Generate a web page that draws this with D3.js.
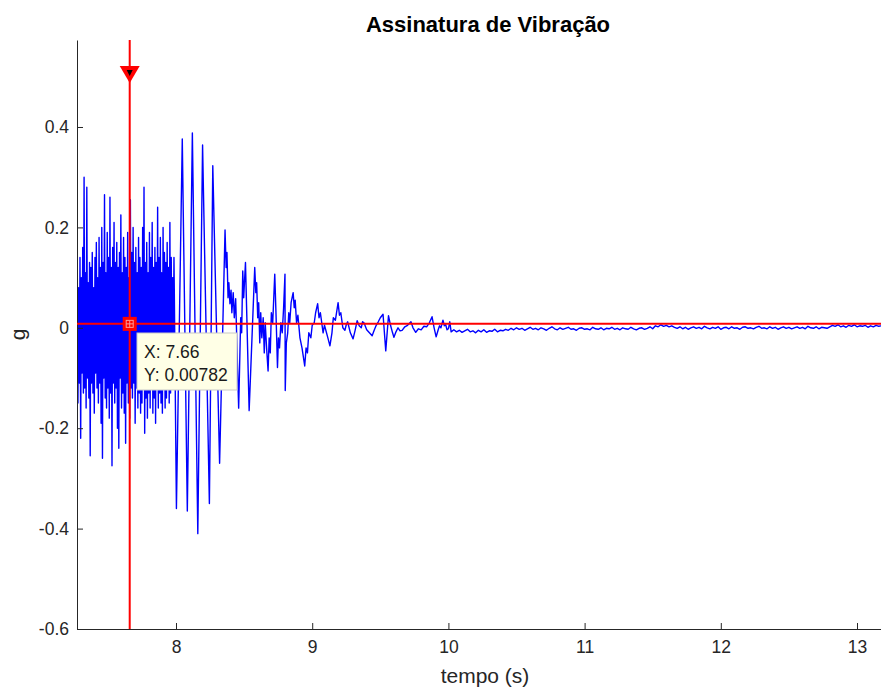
<!DOCTYPE html>
<html>
<head>
<meta charset="utf-8">
<script src="https://cdn.jsdelivr.net/npm/d3@7"></script>
<style>
  body { margin: 0; background: #fff; }
  text { font-family: "Liberation Sans", Arial, sans-serif; }
</style>
</head>
<body>
<div id="chart"></div>
<script>
// Signal: dense burst, decaying oscillation, quiet tail
const burstStart = 7.275;
const burstStep = 0.005;
const burstG = [
  0.12, -0.15, 0.08, -0.11, 0.14, -0.22, 0.10, -0.09, 0.16, -0.13,
  0.30, -0.12, 0.11, -0.16, 0.28, -0.10, 0.09, -0.14, 0.13, -0.255,
  0.12, -0.11, 0.15, -0.13, 0.08, -0.17, 0.14, -0.09, 0.17, -0.12,
  0.10, -0.15, 0.18, -0.11, 0.12, -0.19, 0.20, -0.26, 0.13, -0.10,
  0.265, -0.14, 0.11, -0.16, 0.19, -0.12, 0.14, -0.18, 0.26, -0.13,
  0.12, -0.275, 0.16, -0.11, 0.21, -0.15, 0.13, -0.12, 0.17, -0.20,
  0.12, -0.24, 0.15, -0.10, 0.225, -0.16, 0.11, -0.13, 0.18, -0.17,
  0.14, -0.23, 0.12, -0.11, 0.19, -0.15, 0.10, -0.18, 0.255, -0.12,
  0.15, -0.14, 0.20, -0.11, 0.13, -0.19, 0.16, -0.12, 0.11, -0.16,
  0.18, -0.13, 0.14, -0.17, 0.12, -0.15, 0.20, -0.12, 0.28, -0.21,
  0.13, -0.14, 0.17, -0.18, 0.11, -0.13, 0.19, -0.16, 0.14, -0.11,
  0.21, -0.17, 0.12, -0.14, 0.16, -0.19, 0.13, -0.12, 0.24, -0.16,
  0.14, -0.13, 0.18, -0.15, 0.11, -0.17, 0.20, -0.12, 0.15, -0.16,
  0.13, -0.14, 0.17, -0.11, 0.12, -0.15, 0.21, -0.13, 0.14, -0.12,
  0.10, -0.08
];

// [tempo, g] turning points of the decaying part
const decayPts = [
  [7.985, 0.14], [8.003, -0.36], [8.046, 0.376], [8.083, -0.365], [8.12, 0.388],
  [8.16, -0.41], [8.195, 0.364], [8.245, -0.35], [8.27, 0.323], [8.32, -0.27],
  [8.36, 0.195], [8.368, 0.12], [8.374, 0.15], [8.382, 0.06], [8.388, 0.09],
  [8.396, 0.048], [8.404, 0.075], [8.41, 0.03], [8.42, 0.07], [8.428, 0.02],
  [8.438, 0.058], [8.46, -0.16], [8.475, 0.02], [8.482, -0.01], [8.49, 0.113],
  [8.497, 0.06], [8.51, 0.13], [8.537, -0.165], [8.578, 0.12], [8.586, 0.07],
  [8.592, 0.09], [8.60, 0.02], [8.607, 0.05], [8.615, -0.03], [8.622, 0.03],
  [8.63, -0.02], [8.64, 0.02], [8.648, -0.05], [8.655, 0.01], [8.665, -0.04],
  [8.676, -0.086], [8.684, -0.02], [8.692, -0.05], [8.70, 0.03], [8.71, 0.01],
  [8.725, 0.107], [8.735, 0.02], [8.745, -0.079], [8.752, -0.02], [8.76, -0.04],
  [8.77, 0.01], [8.78, -0.01], [8.79, 0.04], [8.80, 0.107], [8.802, -0.125],
  [8.81, -0.03], [8.82, -0.01], [8.828, 0.03], [8.835, 0.01], [8.845, 0.05],
  [8.86, 0.07], [8.868, 0.04], [8.875, 0.055], [8.885, 0.01], [8.895, 0.025],
  [8.91, -0.02], [8.925, -0.04], [8.945, -0.076], [8.955, -0.04], [8.965, -0.05],
  [8.975, -0.01], [8.99, -0.02], [9.00, 0.005], [9.015, 0.01], [9.025, 0.03],
  [9.04, 0.048], [9.05, 0.02], [9.06, 0.03], [9.08, -0.01], [9.09, 0.005],
  [9.10, -0.005], [9.115, -0.02], [9.13, -0.036], [9.145, -0.01], [9.155, 0.02],
  [9.17, 0.015], [9.19, 0.05], [9.20, 0.025], [9.21, 0.03], [9.225, 0.0],
  [9.24, -0.005], [9.25, 0.006], [9.26, 0.012], [9.28, -0.01], [9.30, -0.022],
  [9.315, -0.005], [9.33, 0.014], [9.345, 0.004], [9.36, 0.0], [9.37, 0.012],
  [9.38, 0.01], [9.40, -0.004], [9.42, -0.01], [9.44, -0.016], [9.455, -0.005],
  [9.47, 0.005], [9.485, 0.012], [9.50, 0.02], [9.52, 0.027], [9.54, -0.046],
  [9.56, 0.024], [9.575, 0.005], [9.59, -0.01], [9.60, -0.019], [9.615, -0.008],
  [9.63, 0.0], [9.645, -0.006], [9.66, -0.005], [9.68, 0.002], [9.70, 0.005],
  [9.725, 0.012], [9.74, 0.0], [9.76, -0.009], [9.78, -0.002], [9.80, -0.004],
  [9.82, 0.003], [9.84, 0.002], [9.86, 0.01], [9.88, 0.022], [9.895, 0.0],
  [9.91, -0.018], [9.925, -0.004], [9.935, 0.004], [9.945, 0.0], [9.96, 0.015],
  [9.97, 0.004], [9.98, 0.006], [9.99, -0.004], [10.00, -0.002], [10.01, 0.012],
  [10.02, -0.008]
];

const tailStart = 10.04;
const tailStep = 0.02;
const tailG = [
  -0.004, -0.008, -0.005, -0.009, -0.006, -0.003, -0.008, -0.006, -0.010, -0.005,
  -0.008, -0.004, -0.009, -0.006, -0.007, -0.003, -0.008, -0.005, -0.006, -0.003,
  -0.005,
  -0.001, -0.004, 0.000, -0.003, -0.001, -0.005, -0.002, 0.001, -0.003, -0.001,
  -0.004, 0.000, -0.002, -0.005, -0.001, 0.002, -0.002, -0.004, 0.000, -0.003,
  -0.001, 0.001, -0.003, -0.002, -0.005, -0.001, 0.000, -0.003, -0.002, -0.004,
  0.001, -0.002, -0.003, 0.000, -0.004, -0.001, -0.002, 0.001, -0.003, -0.001,
  -0.004, 0.000, -0.002, -0.003, 0.001, -0.002, -0.004, -0.001, 0.000, -0.003,
  -0.001, 0.002, -0.002,
  0.004, 0.002, 0.006, 0.003, 0.005, 0.002, 0.004, 0.001,
  -0.001, 0.002, -0.002, 0.001, -0.003, 0.000, 0.002, -0.001, 0.001, -0.002,
  0.003, 0.000, -0.002, 0.001, -0.001, 0.002, -0.003, 0.000, 0.001, -0.002,
  0.002, -0.001, 0.000, -0.003, 0.001, 0.002, -0.001, 0.000, -0.002, 0.001,
  0.003, -0.001, 0.000, -0.002, 0.002, -0.001, 0.001, -0.003, 0.000, 0.002,
  -0.001, 0.001, -0.002, 0.000, 0.002, -0.001, 0.001, -0.002, 0.003, 0.000,
  -0.001, 0.002, -0.002, 0.001, 0.000, -0.001,
  0.002, 0.005, 0.003, 0.006, 0.002, 0.004, 0.001, 0.005, 0.003, 0.006,
  0.002, 0.004, 0.003, 0.005, 0.001, 0.004, 0.002, 0.005, 0.003, 0.004,
  0.002, 0.005, 0.003, 0.004, 0.002
];

// Data cursor
const cursorX = 7.66;
const cursorY = 0.00782;

const xTicks = [8, 9, 10, 11, 12, 13];
const yTicks = [-0.6, -0.4, -0.2, 0, 0.2, 0.4];

// Canvas
const width = 881;
const height = 691;
const plot = { left: 77, right: 895, top: 40, bottom: 629 };

const svg = d3.select("#chart")
    .append("svg")
    .attr("width", width)
    .attr("height", height);

const xScale = d3.scaleLinear()
    .domain([7.273, 13.279])
    .range([plot.left, plot.right]);

const yScale = d3.scaleLinear()
    .domain([-0.6, 0.5733])
    .range([plot.bottom, plot.top]);

// Build point list
const points = [];
burstG.forEach((g, i) => points.push([burstStart + i * burstStep, g]));
decayPts.forEach(p => points.push(p));
tailG.forEach((g, i) => points.push([tailStart + i * tailStep, g]));

svg.append("clipPath")
    .attr("id", "clip")
    .append("rect")
    .attr("x", plot.left)
    .attr("y", plot.top)
    .attr("width", plot.right - plot.left)
    .attr("height", plot.bottom - plot.top);

const line = d3.line()
    .x(d => xScale(d[0]))
    .y(d => yScale(d[1]));

svg.append("path")
    .datum(points)
    .attr("clip-path", "url(#clip)")
    .attr("d", line)
    .attr("fill", "none")
    .attr("stroke", "#0000ff")
    .attr("stroke-width", 1.4)
    .attr("stroke-linejoin", "round");

// Axes (MATLAB style: inward ticks, no box)
const xAxis = d3.axisBottom(xScale)
    .tickValues(xTicks)
    .tickFormat(d => String(d))
    .tickSizeInner(-6)
    .tickSizeOuter(0)
    .tickPadding(12);

const yAxis = d3.axisLeft(yScale)
    .tickValues(yTicks)
    .tickFormat(d => d === 0 ? "0" : d.toFixed(1))
    .tickSizeInner(-6)
    .tickSizeOuter(0)
    .tickPadding(8);

const gx = svg.append("g")
    .attr("transform", `translate(0, ${plot.bottom})`)
    .call(xAxis);

const gy = svg.append("g")
    .attr("transform", `translate(${plot.left}, 0)`)
    .call(yAxis);

[gx, gy].forEach(g => {
    g.select(".domain").attr("stroke", "#262626");
    g.selectAll(".tick line").attr("stroke", "#262626");
    g.selectAll(".tick text")
        .attr("fill", "#262626")
        .style("font-size", "17.5px")
        .style("font-family", "'Liberation Sans', Arial, sans-serif");
});

// Title and labels
svg.append("text")
    .attr("x", 488)
    .attr("y", 32)
    .attr("text-anchor", "middle")
    .style("font-size", "22px")
    .style("font-weight", "bold")
    .attr("fill", "#000")
    .text("Assinatura de Vibração");

svg.append("text")
    .attr("x", 485)
    .attr("y", 683)
    .attr("text-anchor", "middle")
    .style("font-size", "21px")
    .attr("fill", "#262626")
    .text("tempo (s)");

svg.append("text")
    .attr("transform", `translate(25, ${(plot.top + plot.bottom) / 2}) rotate(-90)`)
    .attr("text-anchor", "middle")
    .style("font-size", "21px")
    .attr("fill", "#262626")
    .text("g");

// Cursor crosshair
const cx = xScale(cursorX);
const cy = yScale(cursorY);

svg.append("line")
    .attr("x1", cx).attr("x2", cx)
    .attr("y1", plot.top).attr("y2", plot.bottom)
    .attr("stroke", "#ff0000")
    .attr("stroke-width", 2);

svg.append("line")
    .attr("x1", plot.left).attr("x2", plot.right)
    .attr("y1", cy).attr("y2", cy)
    .attr("stroke", "#ff0000")
    .attr("stroke-width", 2);

// Triangle handle at the top
svg.append("path")
    .attr("d", `M${cx - 10},66 L${cx + 10},66 L${cx},83 Z`)
    .attr("fill", "#ff0000");
svg.append("path")
    .attr("d", `M${cx - 3},70 L${cx + 3},70 L${cx},76 Z`)
    .attr("fill", "#000");

// Square marker at the data point
svg.append("rect")
    .attr("x", cx - 7).attr("y", cy - 7)
    .attr("width", 14).attr("height", 14)
    .attr("fill", "#ff0000");
svg.append("rect")
    .attr("x", cx - 3.5).attr("y", cy - 3.5)
    .attr("width", 7).attr("height", 7)
    .attr("fill", "none")
    .attr("stroke", "#ff9a9a")
    .attr("stroke-width", 1);
svg.append("path")
    .attr("d", `M${cx},${cy - 3.5} V${cy + 3.5} M${cx - 3.5},${cy} H${cx + 3.5}`)
    .attr("stroke", "#ff9a9a")
    .attr("stroke-width", 1);

// Data tip box
const tip = svg.append("g").attr("transform", "translate(137, 333)");
tip.append("rect")
    .attr("width", 100)
    .attr("height", 57)
    .attr("fill", "#ffffe6")
    .attr("stroke", "#c8c8c8")
    .attr("stroke-width", 1);
tip.append("text")
    .attr("x", 7).attr("y", 25)
    .style("font-size", "17.5px")
    .attr("fill", "#1a1a1a")
    .text("X: " + cursorX);
tip.append("text")
    .attr("x", 7).attr("y", 48)
    .style("font-size", "17.5px")
    .attr("fill", "#1a1a1a")
    .text("Y: " + cursorY);
</script>
</body>
</html>
